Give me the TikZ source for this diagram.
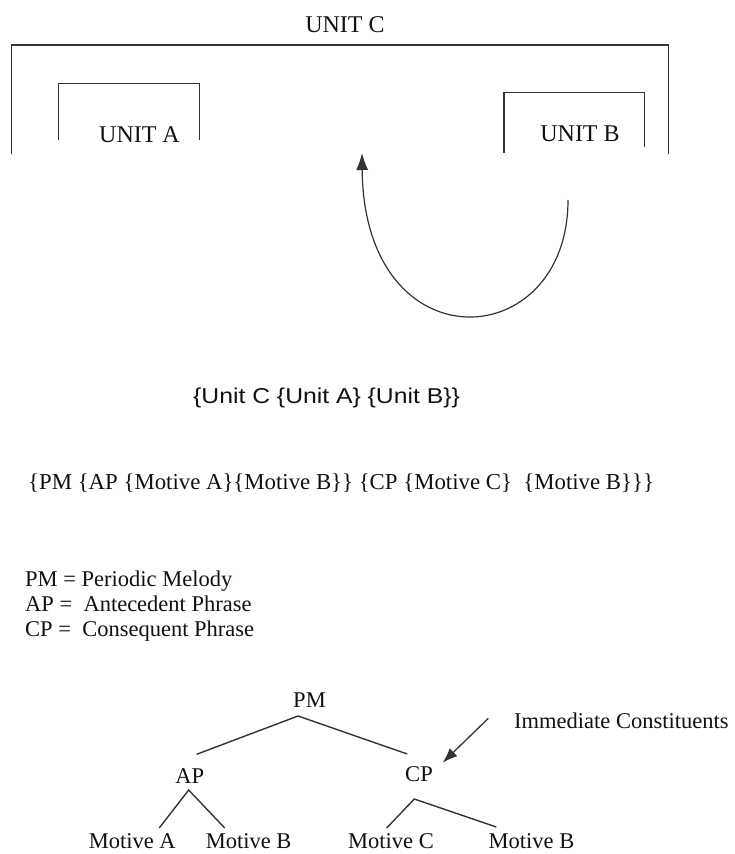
\documentclass[tikz,border=0pt]{standalone}
\usepackage{fontspec}
\setmainfont{Liberation Serif}
\newfontfamily\unitsans{Liberation Sans}[FakeStretch=1.15]
\usetikzlibrary{arrows.meta}
\definecolor{ink}{HTML}{111111}
\definecolor{rule}{HTML}{333333}
\begin{document}
\begin{tikzpicture}[x=1pt, y=-1pt,
		unit/.style = {inner sep=0, anchor=base, font=\fontsize{24}{28}\selectfont, text=ink},
		word/.style = {inner sep=0, font=\fontsize{22.5}{26}\selectfont, text=ink},
		frame/.style = {draw=rule, line width=1.3pt},
		branch/.style = {draw=rule, line width=1.4pt}]
		\useasboundingbox (0,0) rectangle (734,854);
		\draw[frame] (11.5,154) |- (668.5,45) -- (668.5,154);
		\draw[frame] (58.5,140) |- (199.5,83.5) -- (199.5,140);
		\draw[frame] (504,153) |- (644.5,92.5) -- (644.5,147);
		\node[unit] (unitC) at (345,32.3) {UNIT C};
		\node[unit] (unitA) at (139.5,142.7) {UNIT A};
		\node[unit] (unitB) at (580,141.7) {UNIT B};
		\coordinate (loopstart) at (568,200);
		\coordinate (looptip) at (362,153);
		\draw[rule, line width=1.2pt, -{Latex[length=17pt,width=12pt]}] (loopstart) .. controls (568,355) and (364,367) .. (looptip);
		\node[anchor=base west, inner sep=0, font=\unitsans\fontsize{21.5}{26}\selectfont, text=ink] (nesting) at (193,403) {\{Unit C \{Unit A\} \{Unit B\}\}};
		\node[word, anchor=base west, font=\fontsize{22.8}{26}\selectfont] (bracketing) at (28,489.3) {\{PM \{AP \{Motive A\}\{Motive B\}\} \{CP \{Motive C\}\ \ \{Motive B\}\}\}};
		\node[word, anchor=base west] (keyPM) at (25,586) {PM = Periodic Melody};
		\node[word, anchor=base west] (keyAP) at (25,611) {AP =\ \ Antecedent Phrase};
		\node[word, anchor=base west] (keyCP) at (25,636) {CP =\ \ Consequent Phrase};
		\node[word, anchor=base] (PM) at (309.5,707) {PM};
		\node[word, anchor=base] (AP) at (189.7,783) {AP};
		\node[word, anchor=base] (CP) at (419,781.7) {CP};
		\node[word, anchor=base] (motA) at (132.3,848) {Motive A};
		\node[word, anchor=base] (motB) at (248.6,848) {Motive B};
		\node[word, anchor=base] (motC) at (391,848) {Motive C};
		\node[word, anchor=base] (motB2) at (531.5,848) {Motive B};
		\draw[branch] ([shift={(6.9,-28.7)}]AP.base) -- ([shift={(-11.5,9)}]PM.base) -- ([shift={(-11.7,-27.7)}]CP.base);
		\draw[branch] ([shift={(26.9,-20)}]motA.base) -- ([shift={(-1,7)}]AP.base) -- ([shift={(-23.9,-20)}]motB.base);
		\draw[branch] ([shift={(-4.3,-20)}]motC.base) -- ([shift={(-4.7,17.3)}]CP.base) -- ([shift={(-35.2,-21)}]motB2.base);
		\node[word, anchor=base west] (ic) at (514,728.3) {Immediate Constituents};
		\draw[rule, line width=1.3pt, -{Latex[length=15pt,width=11pt]}] ([shift={(-25.7,-10)}]ic.base west) -- ([shift={(23.7,-19)}]CP.base);
	\end{tikzpicture}
\end{document}
